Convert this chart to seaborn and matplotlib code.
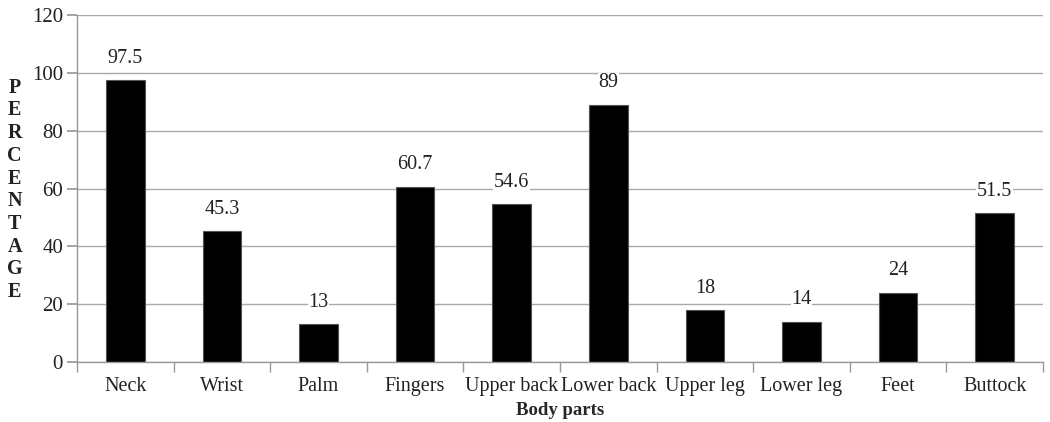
import matplotlib
matplotlib.use("Agg")
import matplotlib.pyplot as plt
import seaborn as sns
import numpy as np

# ================= DATA =================
parts = ['Neck', 'Wrist', 'Palm', 'Fingers', 'Upper back', 'Lower back',
         'Upper leg', 'Lower leg', 'Feet', 'Buttock']
values = [97.5, 45.3, 13, 60.7, 54.6, 89, 18, 14, 24, 51.5]
labels = ['97.5', '45.3', '13', '60.7', '54.6', '89', '18', '14', '24', '51.5']
y_ticks = [0, 20, 40, 60, 80, 100, 120]

sns.set_theme(style="white")
plt.rcParams['font.family'] = ['Liberation Serif', 'DejaVu Serif']

fig = plt.figure(figsize=(10.5, 4.22), dpi=100)
ax = fig.add_axes([0.0733, 0.142, 0.92, 0.8225])

sns.barplot(x=parts, y=values, color='black', width=0.40,
            edgecolor='#555555', linewidth=0.8, saturation=1, ax=ax)

ax.set_ylim(0, 120)
ax.set_xlim(-0.5, len(parts) - 0.5)
ax.set_yticks(y_ticks)
ax.yaxis.grid(True, color='#aaaaaa', linewidth=1.0)
ax.set_axisbelow(True)

# value labels with white background over the grid
for i, (v, t) in enumerate(zip(values, labels)):
    ax.annotate(t, (i, v), xytext=(0, 9), textcoords='offset points',
                ha='center', va='bottom', fontsize=14.5, color='#222222',
                bbox=dict(facecolor='white', edgecolor='none', pad=0.5))

# spines
for s in ['top', 'right']:
    ax.spines[s].set_visible(False)
for s in ['left', 'bottom']:
    ax.spines[s].set_color('#999999')
    ax.spines[s].set_linewidth(1.0)

# ticks: x tick marks between categories
ax.set_xticks(np.arange(-0.5, len(parts), 1.0), minor=True)
ax.tick_params(axis='x', which='major', length=0, labelsize=14.5,
               labelcolor='#222222', pad=11)
ax.tick_params(axis='x', which='minor', length=7, color='#999999',
               direction='out', bottom=True)
ax.tick_params(axis='y', which='major', length=7, color='#999999',
               labelsize=15, labelcolor='#222222', left=True, pad=3)

ax.set_xlabel('Body parts', fontsize=13.5, fontweight='bold', labelpad=4)
ax.set_ylabel('')
fig.text(0.014, 0.55, '\n'.join('PERCENTAGE'), ha='center', va='center',
         fontsize=14.5, fontweight='bold', linespacing=1.18, color='#222222')

fig.savefig('out.png', dpi=100)
